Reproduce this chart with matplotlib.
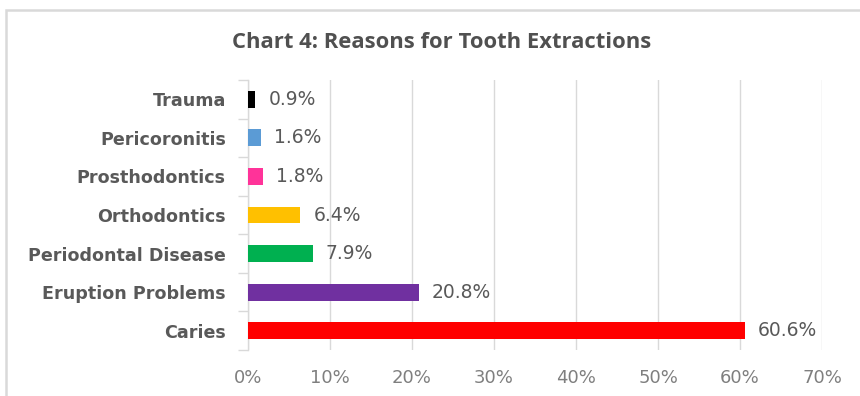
import matplotlib
matplotlib.use("Agg")
import matplotlib.pyplot as plt
from matplotlib.patches import Rectangle
from matplotlib.ticker import FixedLocator, PercentFormatter

categories = ["Trauma", "Pericoronitis", "Prosthodontics", "Orthodontics",
              "Periodontal Disease", "Eruption Problems", "Caries"]
values = [0.9, 1.6, 1.8, 6.4, 7.9, 20.8, 60.6]
colors = ["#000000", "#5B9BD5", "#FF3399", "#FFC000", "#00B050", "#7030A0", "#FF0000"]
x_ticks = [0, 10, 20, 30, 40, 50, 60, 70]
title = "Chart 4: Reasons for Tooth Extractions"

fig = plt.figure(figsize=(8.6, 3.96), dpi=100)
fig.patch.set_facecolor("white")
# outer chart frame
fig.add_artist(Rectangle((6/860, -0.1), 1.2, 1 - 10/396 + 0.1, transform=fig.transFigure,
                         fill=False, edgecolor="#D9D9D9", linewidth=1.8))

ax = fig.add_axes([248/860, 1 - 350/396, (822 - 248)/860, (350 - 80)/396])
ypos = list(range(len(categories)))
ax.barh(ypos, values, height=0.44, color=colors, zorder=3)
ax.set_ylim(len(categories) - 0.5, -0.5)
ax.set_xlim(0, 70)
ax.xaxis.set_major_locator(FixedLocator(x_ticks))
ax.xaxis.set_major_formatter(PercentFormatter(decimals=0))
ax.grid(axis="x", color="#D9D9D9", linewidth=1.0, zorder=0)
for s in ["top", "right", "bottom"]:
    ax.spines[s].set_visible(False)
ax.spines["left"].set_color("#D9D9D9")
ax.spines["left"].set_linewidth(1.0)

ax.set_yticks(ypos)
ax.set_yticklabels(categories, fontsize=12.6, fontweight="bold", color="#595959",
                   family="DejaVu Sans")
ax.set_yticks([i - 0.5 for i in range(len(categories) + 1)], minor=True)
ax.tick_params(axis="y", which="major", length=0, pad=16)
ax.tick_params(axis="y", which="minor", length=7, color="#D9D9D9", width=1)
ax.tick_params(axis="x", length=0, pad=14, labelsize=13, labelcolor="#7F7F7F")

for y, v in zip(ypos, values):
    ax.annotate(f"{v:.1f}%", (v, y), xytext=(9.5, 0), textcoords="offset points",
                va="center", ha="left", fontsize=13.5, color="#595959")

fig.text(442/860, 1 - 42/396, title, ha="center", va="center", fontsize=15.8,
         fontweight="bold", color="#505050", family="Open Sans")

fig.savefig("out.png", dpi=100)
